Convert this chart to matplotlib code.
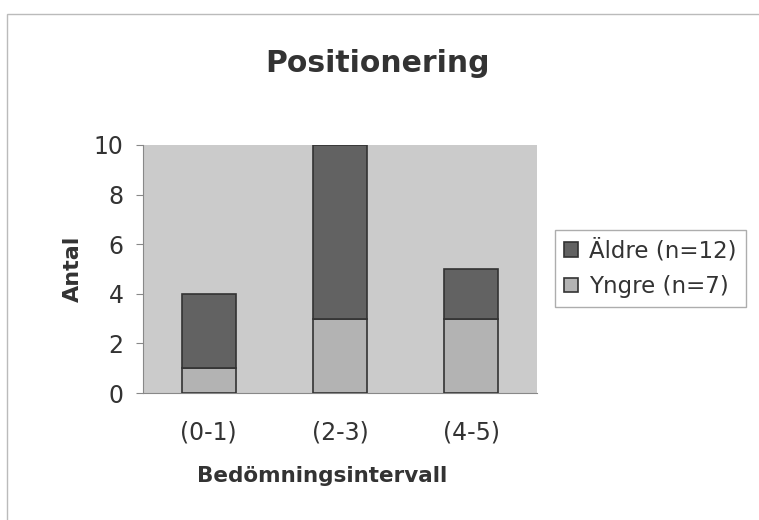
import matplotlib
matplotlib.use("Agg")
import matplotlib.pyplot as plt
import numpy as np

categories = ["(0-1)", "(2-3)", "(4-5)"]
yngre = [1, 3, 3]
aldre = [3, 7, 2]
series_labels = ["Äldre (n=12)", "Yngre (n=7)"]
yticks = [0, 2, 4, 6, 8, 10]

plt.rcParams['font.family'] = ['DejaVu Sans']

fig = plt.figure(figsize=(7.59, 5.2), dpi=100)
fig.patch.set_facecolor("white")
ax = fig.add_axes([0.1884, 0.2442, 0.5191, 0.477])
ax.set_facecolor("#cbcbcb")

x = np.arange(len(categories))
w = 0.41
b1 = ax.bar(x, yngre, width=w, color="#b3b3b3", edgecolor="#333333", linewidth=1.2, label=series_labels[1], zorder=3)
b2 = ax.bar(x, aldre, width=w, bottom=yngre, color="#626262", edgecolor="#333333", linewidth=1.2, label=series_labels[0], zorder=3)

ax.set_xlim(-0.5, 2.5)
ax.set_ylim(0, 10)
ax.set_yticks(yticks)
ax.set_xticks(x)
ax.set_xticklabels(categories, fontsize=17, color="#333333")
ax.tick_params(axis='y', labelsize=17, colors="#333333", direction='out', length=5, width=0.8, pad=9)
ax.tick_params(axis='y', color="#888888")
ax.tick_params(axis='x', length=0, pad=20)
for s in ["top", "right"]:
    ax.spines[s].set_visible(False)
ax.spines["left"].set_color("#888888")
ax.spines["bottom"].set_color("#888888")

fig.text(378 / 759, 1 - 63 / 520, "Positionering", fontsize=21.5, fontweight="bold",
         color="#333333", ha="center", va="center")
fig.text(322 / 759, 1 - 482 / 520, "Bedömningsintervall", fontsize=15.5, fontweight="bold",
         color="#333333", ha="center", va="baseline")
ax.set_ylabel("Antal", fontsize=16, fontweight="bold", color="#333333", labelpad=8)

leg = ax.legend([b2, b1], series_labels, loc="upper left", bbox_to_anchor=(555 / 759, 1 - 230 / 520),
                bbox_transform=fig.transFigure, borderaxespad=0,
                fontsize=16.5, frameon=True, fancybox=False, handlelength=0.6, handleheight=0.6,
                handletextpad=0.5, borderpad=0.4, labelspacing=0.55)
leg.get_frame().set_edgecolor("#999999")
leg.get_frame().set_linewidth(1.0)
for t in leg.get_texts():
    t.set_color("#333333")

# outer frame
fig.add_artist(plt.Rectangle((0.009, -0.01), 1.0, 0.984, transform=fig.transFigure,
                             fill=False, edgecolor="#bbbbbb", linewidth=1))

fig.savefig("out.png", dpi=100)
